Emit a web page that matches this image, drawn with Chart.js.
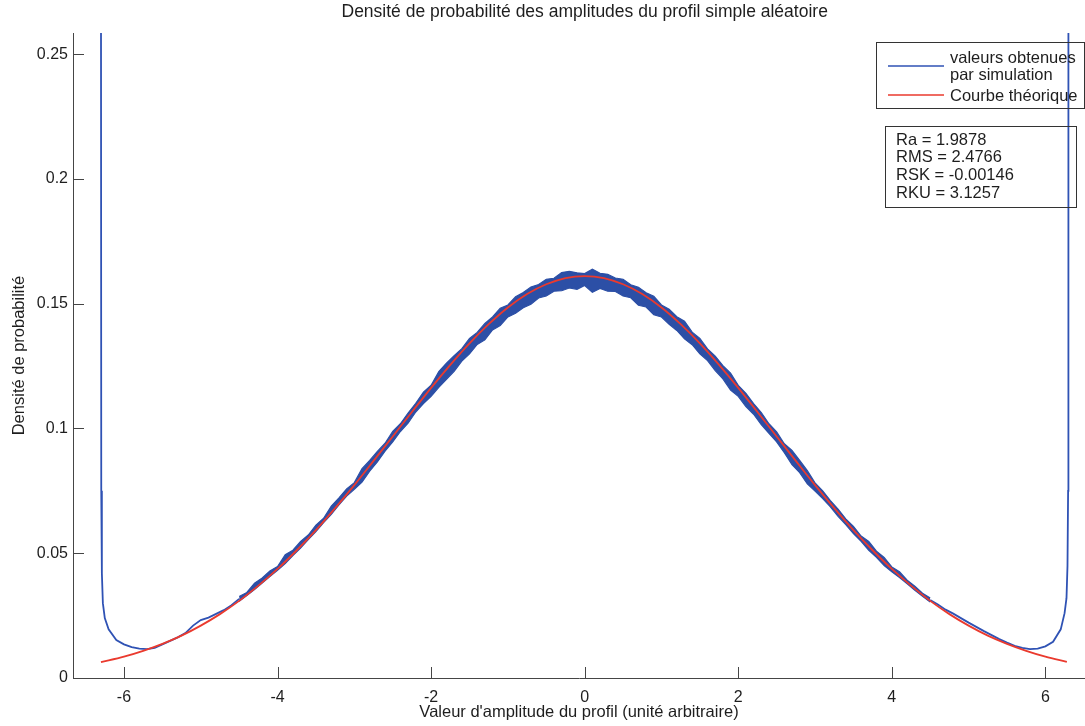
<!DOCTYPE html>
<html><head><meta charset="utf-8">
<script src="https://cdn.jsdelivr.net/npm/chart.js@4/dist/chart.umd.min.js"></script>
<style>html,body{margin:0;padding:0;background:#fff;overflow:hidden}#wrap{width:1085px;height:726px;position:relative}</style>
</head><body><div id="wrap"><canvas id="c" width="1085" height="726"></canvas></div>
<script>
const chartTitle = "Densité de probabilité des amplitudes du profil simple aléatoire";
const xAxisTitle = "Valeur d'amplitude du profil (unité arbitraire)";
const yAxisTitle = "Densité de probabilité";
const legendLabels = ["valeurs obtenues", "par simulation", "Courbe théorique"];
const statsLines = ["Ra = 1.9878", "RMS = 2.4766", "RSK = -0.00146", "RKU = 3.1257"];
const xTicks = [-6, -4, -2, 0, 2, 4, 6];
const yTicks = [0, 0.05, 0.1, 0.15, 0.2, 0.25];

// Theoretical curve (red)
const theoX = [-6.3,-6.0,-5.75,-5.5,-5.25,-5.0,-4.75,-4.5,-4.25,-4.0,-3.75,-3.5,-3.25,-3.0,-2.75,-2.5,-2.25,-2.0,-1.75,-1.5,-1.25,-1.0,-0.75,-0.5,-0.25,0,
  0.25,0.5,0.75,1.0,1.25,1.5,1.75,2.0,2.25,2.5,2.75,3.0,3.25,3.5,3.75,4.0,4.25,4.5,4.75,5.0,5.25,5.5,5.75,6.0,6.28];
const theoY = [0.00634,0.00856,0.0109,0.0137,0.0170,0.0210,0.0256,0.0309,0.0370,0.0437,0.0512,0.0593,0.0681,0.0773,0.0870,0.0968,0.1066,0.1163,0.1255,0.1341,0.1418,0.1485,0.1539,0.1578,0.1603,0.1611,
  0.1603,0.1578,0.1539,0.1485,0.1418,0.1341,0.1255,0.1163,0.1066,0.0968,0.0870,0.0773,0.0681,0.0593,0.0512,0.0437,0.0370,0.0309,0.0256,0.0210,0.0170,0.0137,0.0109,0.00856,0.00646];

// Simulated values (blue): tails
const simLeftX = [-6.300,-6.296,-6.288,-6.275,-6.25,-6.2,-6.1,-6.0,-5.9,-5.8,-5.7,-5.6,-5.5,-5.4,-5.3,-5.2,-5.1,-5.0,-4.9,-4.8,-4.7,-4.6,-4.5];
const simLeftY = [0.30,0.075,0.042,0.030,0.024,0.0195,0.0152,0.0135,0.0124,0.0118,0.0116,0.0121,0.0135,0.0149,0.0163,0.0180,0.0210,0.0232,0.0242,0.0257,0.0272,0.0292,0.0317];
const simRightX = [4.5,4.6,4.7,4.8,4.9,5.0,5.1,5.2,5.3,5.4,5.5,5.6,5.7,5.8,5.9,6.0,6.1,6.2,6.25,6.275,6.288,6.296,6.300];
const simRightY = [0.0312,0.0295,0.0274,0.0258,0.0240,0.0222,0.0205,0.0188,0.0172,0.0156,0.0142,0.0129,0.0121,0.0116,0.0118,0.0127,0.0145,0.0195,0.026,0.032,0.045,0.075,0.30];

// Simulated values (blue): noisy central band, upper and lower envelope
const bandX = [-4.5,-4.4,-4.3,-4.2,-4.1,-4.0,-3.9,-3.8,-3.7,-3.6,-3.5,-3.4,-3.3,-3.2,-3.1,-3.0,-2.9,-2.8,-2.7,-2.6,-2.5,-2.4,-2.3,-2.2,-2.1,-2.0,
  -1.9,-1.8,-1.7,-1.6,-1.5,-1.4,-1.3,-1.2,-1.1,-1.0,-0.9,-0.8,-0.7,-0.6,-0.5,-0.4,-0.3,-0.2,-0.1,0.0,0.1,0.2,0.3,0.4,0.5,0.6,0.7,0.8,0.9,1.0,
  1.1,1.2,1.3,1.4,1.5,1.6,1.7,1.8,1.9,2.0,2.1,2.2,2.3,2.4,2.5,2.6,2.7,2.8,2.9,3.0,3.1,3.2,3.3,3.4,3.5,3.6,3.7,3.8,3.9,4.0,4.1,4.2,4.3,4.4,4.5];
const bandUpper = [0.0327,0.0343,0.0380,0.0401,0.0429,0.0447,0.0494,0.0512,0.0547,0.0573,0.0613,0.0640,0.0689,0.0722,0.0758,0.0783,0.0839,0.0872,0.0908,0.0941,
  0.0988,0.1019,0.1062,0.1101,0.1146,0.1173,0.1228,0.1262,0.1292,0.1320,0.1361,0.1385,0.1421,0.1447,0.1482,0.1495,0.1528,0.1545,0.1567,0.1577,
  0.1598,0.1602,0.1625,0.1630,0.1624,0.1621,0.1638,0.1622,0.1618,0.1603,0.1598,0.1576,0.1566,0.1544,0.1530,0.1495,0.1478,0.1448,0.1430,0.1386,
  0.1361,0.1319,0.1290,0.1252,0.1222,0.1173,0.1141,0.1100,0.1064,0.1019,0.0986,0.0939,0.0912,0.0872,0.0831,0.0782,0.0750,0.0711,0.0677,0.0638,
  0.0608,0.0569,0.0547,0.0508,0.0483,0.0445,0.0426,0.0392,0.0368,0.0340,0.0321];
const bandLower = [0.0307,0.0331,0.0355,0.0381,0.0407,0.0432,0.0459,0.0491,0.0521,0.0555,0.0587,0.0623,0.0656,0.0694,0.0729,0.0756,0.0785,0.0829,0.0866,0.0909,
  0.0946,0.0988,0.1021,0.1066,0.1100,0.1129,0.1165,0.1197,0.1229,0.1270,0.1299,0.1337,0.1355,0.1395,0.1413,0.1447,0.1462,0.1484,0.1498,0.1523,
  0.1531,0.1550,0.1552,0.1563,0.1558,0.1573,0.1546,0.1561,0.1550,0.1549,0.1531,0.1524,0.1494,0.1487,0.1456,0.1447,0.1418,0.1393,0.1359,0.1336,
  0.1299,0.1272,0.1232,0.1199,0.1154,0.1129,0.1088,0.1057,0.1015,0.0981,0.0946,0.0903,0.0855,0.0823,0.0778,0.0749,0.0719,0.0686,0.0648,0.0615,
  0.0579,0.0548,0.0512,0.0484,0.0451,0.0426,0.0403,0.0378,0.0352,0.0328,0.0304];

const FONT = '"Liberation Sans", Arial, Helvetica, sans-serif';
const BLUE = '#2f52b4';
const BLUE_BAND = '#2c4fa6';
const RED = '#ea3a2e';
const TEXT = '#1e1e1e';
const AXIS = '#454545';

const pts = (xs, ys) => xs.map((x, i) => ({x: x, y: ys[i]}));

const decor = {
  id: 'decor',
  afterDraw(chart) {
    const {ctx, chartArea: a, scales: {x, y}} = chart;
    ctx.save();
    // inward tick marks
    ctx.strokeStyle = AXIS; ctx.lineWidth = 1;
    ctx.beginPath();
    x.ticks.forEach(t => { const px = Math.round(x.getPixelForValue(t.value)) + 0.5; ctx.moveTo(px, a.bottom); ctx.lineTo(px, a.bottom - 11); });
    y.ticks.forEach(t => { const py = Math.round(y.getPixelForValue(t.value)) + 0.5; ctx.moveTo(a.left, py); ctx.lineTo(a.left + 11, py); });
    ctx.stroke();
    // chart title, centred on the axes (x = 0)
    ctx.fillStyle = TEXT;
    ctx.font = '17.5px ' + FONT;
    ctx.textAlign = 'center'; ctx.textBaseline = 'middle';
    ctx.fillText(chartTitle, x.getPixelForValue(0), 12);
    // legend box
    ctx.font = '16.5px ' + FONT;
    ctx.strokeStyle = '#333'; ctx.lineWidth = 1;
    ctx.strokeRect(876.5, 42.5, 208, 66);
    ctx.lineWidth = 1.6;
    ctx.strokeStyle = BLUE; ctx.beginPath(); ctx.moveTo(888, 66); ctx.lineTo(944, 66); ctx.stroke();
    ctx.strokeStyle = RED; ctx.beginPath(); ctx.moveTo(888, 95); ctx.lineTo(944, 95); ctx.stroke();
    ctx.textAlign = 'left';
    ctx.fillText(legendLabels[0], 950, 58);
    ctx.fillText(legendLabels[1], 950, 75);
    ctx.fillText(legendLabels[2], 950, 96);
    // stats box
    ctx.strokeStyle = '#333'; ctx.lineWidth = 1;
    ctx.strokeRect(885.5, 126.5, 191, 81);
    const sy = [140, 157, 175, 193];
    statsLines.forEach((s, i) => ctx.fillText(s, 896, sy[i]));
    ctx.restore();
  }
};

new Chart(document.getElementById('c'), {
  type: 'line',
  data: {
    datasets: [
      {label: 'Courbe théorique', data: pts(theoX, theoY), borderColor: RED, borderWidth: 1.8, pointRadius: 0, cubicInterpolationMode: 'monotone', fill: false},
      {label: 'sim-left', data: pts(simLeftX, simLeftY), borderColor: BLUE, borderWidth: 1.8, pointRadius: 0, tension: 0, fill: false},
      {label: 'sim-right', data: pts(simRightX, simRightY), borderColor: BLUE, borderWidth: 1.8, pointRadius: 0, tension: 0, fill: false},
      {label: 'band-lower', data: pts(bandX, bandLower), borderColor: BLUE_BAND, borderWidth: 1.2, pointRadius: 0, tension: 0, fill: false},
      {label: 'band-upper', data: pts(bandX, bandUpper), borderColor: BLUE_BAND, borderWidth: 1.2, pointRadius: 0, tension: 0, fill: '-1', backgroundColor: BLUE_BAND}
    ]
  },
  options: {
    responsive: false,
    animation: false,
    devicePixelRatio: 1,
    layout: {padding: {top: 33, left: 0, right: 0, bottom: 0}},
    plugins: {legend: {display: false}, tooltip: {enabled: false}, title: {display: false}},
    scales: {
      x: {
        type: 'linear', min: -6.664, max: 6.516,
        afterBuildTicks: s => { s.ticks = xTicks.map(v => ({value: v})); },
        afterFit: s => { s.height = 48; },
        grid: {display: false, drawTicks: false},
        border: {display: true, color: AXIS, width: 1},
        ticks: {padding: 10, color: TEXT, font: {family: FONT, size: 16}, maxRotation: 0, autoSkip: false, callback: v => String(v)},
        title: {display: true, text: xAxisTitle, color: TEXT, font: {family: FONT, size: 16.5}, padding: {top: 0, bottom: 4}}
      },
      y: {
        type: 'linear', min: 0, max: 0.2585,
        afterBuildTicks: s => { s.ticks = yTicks.map(v => ({value: v})); },
        afterFit: s => { s.width = 73; },
        grid: {display: false, drawTicks: false},
        border: {display: true, color: AXIS, width: 1},
        ticks: {padding: 5, color: TEXT, font: {family: FONT, size: 16}, autoSkip: false, callback: v => String(v)},
        title: {display: true, text: yAxisTitle, color: TEXT, font: {family: FONT, size: 16.5}, padding: {top: 10, bottom: 0}}
      }
    }
  },
  plugins: [decor]
});
</script>
</body></html>
